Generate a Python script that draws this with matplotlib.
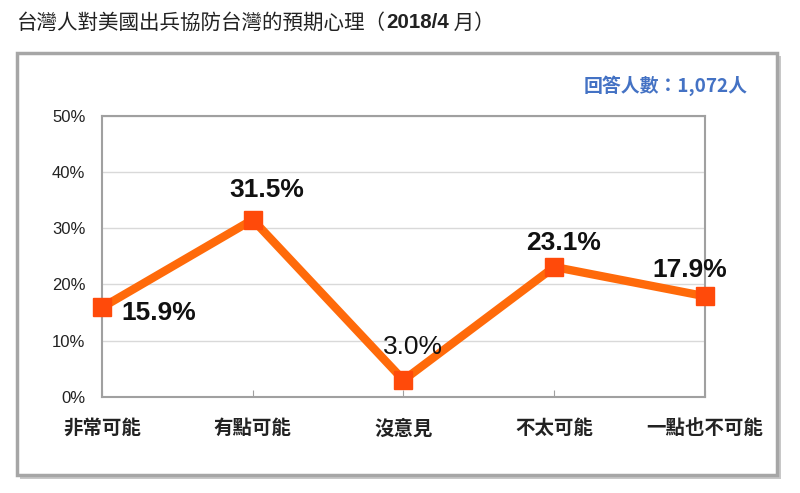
import matplotlib
matplotlib.use("Agg")
import matplotlib.pyplot as plt
from matplotlib.patches import Rectangle
from matplotlib.ticker import FuncFormatter

plt.rcParams['font.family'] = ['Noto Sans CJK TC', 'DejaVu Sans']

categories = ['非常可能', '有點可能', '沒意見', '不太可能', '一點也不可能']
values = [15.9, 31.5, 3.0, 23.1, 17.9]
yticks = [0, 10, 20, 30, 40, 50]
title_parts = ['台灣人對美國出兵協防台灣的預期心理（', '2018/4', ' 月）']
respondents = '回答人數：1,072人'

W, H = 800, 493
fig = plt.figure(figsize=(W / 100, H / 100), dpi=100)
fig.patch.set_facecolor('white')

def fx(px): return px / W
def fy(py): return 1 - py / H

shadow = Rectangle((fx(20), fy(479)), fx(761), fy(56) - fy(479), transform=fig.transFigure,
                   facecolor='#c8c8c8', edgecolor='none', zorder=-3)
fig.patches.append(shadow)
frame = Rectangle((fx(17), fy(475)), fx(760), fy(53) - fy(475), transform=fig.transFigure,
                  facecolor='white', edgecolor='#a6a6a6', linewidth=2.5, zorder=-2)
fig.patches.append(frame)

ax = fig.add_axes([fx(102), fy(397), fx(705) - fx(102), fy(115.5) - fy(397)])
ax.set_zorder(2)
ax.set_facecolor('none')
x = list(range(len(categories)))
ax.plot(x, values, color='#FF6A0A', linewidth=6, solid_joinstyle='miter', zorder=3,
        marker='s', markersize=13, markerfacecolor='#FF4A0A', markeredgecolor='#FF4A0A',
        clip_on=False)
ax.set_xlim(0, len(categories) - 1)
ax.set_ylim(0, 50)
ax.set_yticks(yticks)
ax.yaxis.set_major_formatter(FuncFormatter(lambda v, p: f'{int(v)}%'))
ax.set_xticks(x)
ax.set_xticklabels(categories, fontsize=14, fontweight='bold', color='#222222')
ax.tick_params(axis='x', length=5, color='#a0a0a0', pad=16, direction='in')
ax.tick_params(axis='y', length=0, pad=12, labelcolor='#222222')
for lbl in ax.get_yticklabels():
    lbl.set_fontfamily(['Liberation Sans', 'DejaVu Sans'])
    lbl.set_fontsize(12)
ax.grid(axis='y', color='#d9d9d9', linewidth=1)
for s in ax.spines.values():
    s.set_color('#a0a0a0')
    s.set_linewidth(1.5)
ax.set_axisbelow(True)

offsets = [(41, -4), (10, 21), (7, 24), (6.5, 17), (-11, 19)]
weights = ['bold', 'bold', 'normal', 'bold', 'bold']
for xi, v, off, w in zip(x, values, offsets, weights):
    ax.annotate(f'{v:.1f}%', (xi, v), xytext=off, textcoords='offset points',
                ha='center', va='center', fontsize=19, fontweight=w,
                family=['Liberation Sans', 'DejaVu Sans'], color='#111111',
                annotation_clip=False, zorder=5)

fig.canvas.draw()
renderer = fig.canvas.get_renderer()
xpos = fx(17)
for i, part in enumerate(title_parts):
    t = fig.text(xpos, fy(23), part, fontsize=14.8, va='center', ha='left',
                 fontweight='bold' if i == 1 else 'normal',
                 family=(['Liberation Sans', 'DejaVu Sans'] if i == 1 else ['Noto Sans CJK TC', 'DejaVu Sans']),
                 color='#222222')
    bb = t.get_window_extent(renderer)
    xpos += bb.width / W

fig.text(fx(748), fy(86), respondents, fontsize=13.6, ha='right', va='center',
         color='#4472C4', fontweight='bold')

fig.savefig('out.png', dpi=100, facecolor='white')
